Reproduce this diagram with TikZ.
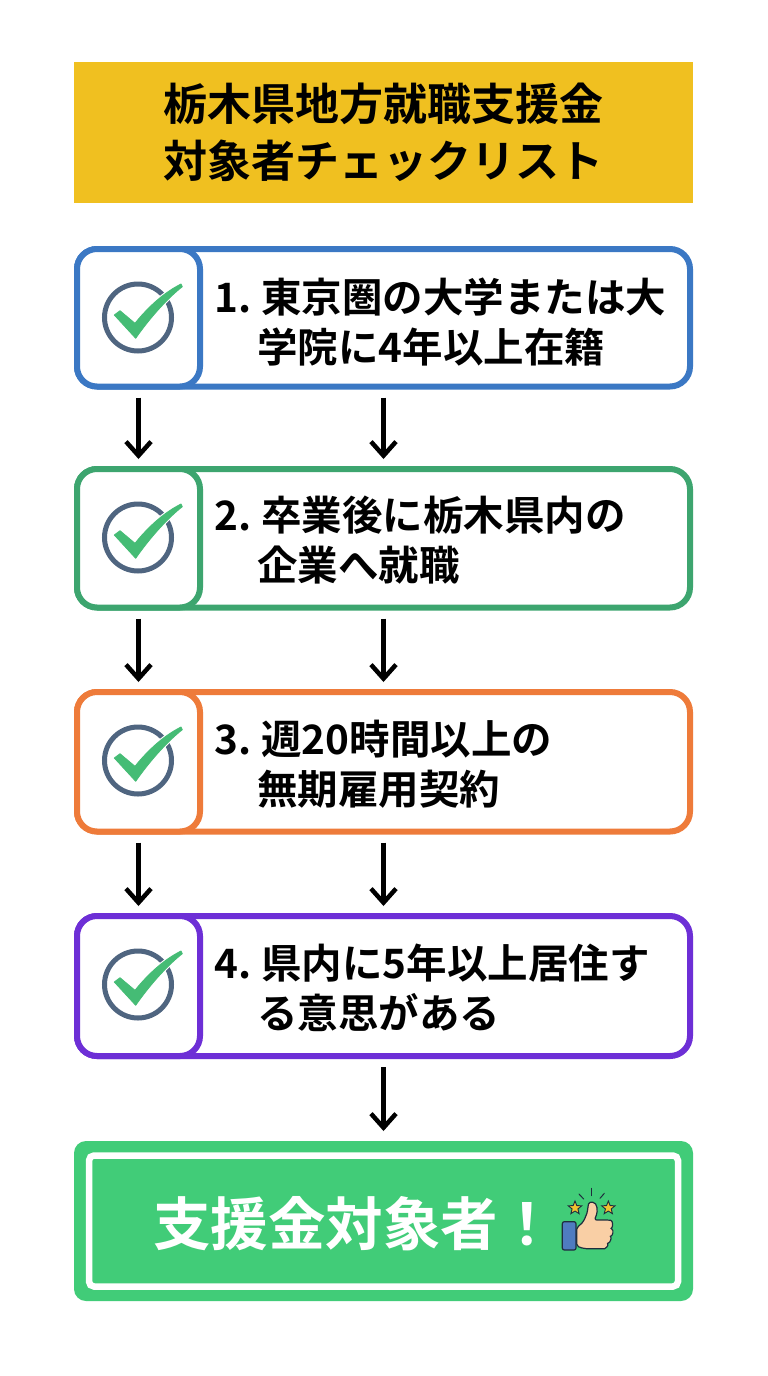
\documentclass[tikz,border=0pt]{standalone}
\usepackage{fontspec}
\setmainfont{Noto Sans CJK JP}[BoldFont={Noto Sans CJK JP Bold}]
\usetikzlibrary{arrows.meta,shapes.geometric}
\definecolor{cTitle}{HTML}{F0C020}
\definecolor{cBlue}{HTML}{3B78C4}
\definecolor{cGreen}{HTML}{3DA56F}
\definecolor{cOrange}{HTML}{EE7B3A}
\definecolor{cPurple}{HTML}{6D2FD6}
\definecolor{cResult}{HTML}{41CC78}
\definecolor{cCheck}{HTML}{45BC75}
\definecolor{cRing}{HTML}{4F6580}
\definecolor{cPeach}{HTML}{F9CFA5}
\definecolor{cCuff}{HTML}{4F7CC0}
\definecolor{cInk}{HTML}{1F2D3D}
\definecolor{cStar}{HTML}{F2C230}
\tikzset{
  x=1pt,y=-1pt,
  stepbox/.style={draw=#1,line width=6pt,rounded corners=20pt,fill=white,inner sep=0pt,outer sep=0pt,minimum width=613pt},
  iconbox/.style={draw=#1,line width=6pt,rounded corners=20pt,fill=white,inner sep=0pt,outer sep=0pt,minimum width=123pt},
  steptext/.style={anchor=west,align=left,inner sep=0pt,font=\fontsize{40.5pt}{50.5pt}\selectfont\bfseries,text=black},
  flow/.style={line width=4.5pt,-{Straight Barb[length=14pt,width=25pt,line width=4.5pt]},shorten <=11pt,shorten >=10pt,black},
  ring/.style={draw=cRing,line width=5pt,circle,minimum size=67pt,inner sep=0pt,outer sep=0pt},
  checkmark/.style={fill=cCheck,draw=cCheck,line width=0.8pt,line join=round},
  checkhalo/.style={draw=white,line width=3pt,line join=round},
  staricon/.style={star,star points=5,star point ratio=2.3,draw=cInk,line width=0.9pt,fill=cStar,minimum size=14pt,inner sep=0pt},
  rayline/.style={draw=cInk,line width=1pt,line cap=round},
}
\newcommand{\checkpath}{(-23.7,-2.5) -- (-18,-6.8) -- (-3,5.8) .. controls (8,-8) and (24,-24) .. (43,-33.5) -- (44.3,-30.8) .. controls (28,-18) and (10,3) .. (-2.3,20.8) -- cycle}
\newcommand{\stepblock}[6]{%
  \node[stepbox=#2,minimum height={#4-#3},anchor=north west] (b#1) at (77,#3) {};
  \node[iconbox=#2,minimum height={#4-#3},anchor=north west] (i#1) at (77,#3) {};
  \node[ring] (c#1) at (138,{#3+68.5}) {};
  \begin{scope}[shift={(c#1.center)}]
    \draw[checkhalo] \checkpath;
    \path[checkmark] \checkpath;
  \end{scope}
  \node[steptext] (t#1) at (214,{#3+#5}) {#6};
}
\begin{document}
\begin{tikzpicture}
\useasboundingbox (0,0) rectangle (768,1376);
\fill[white] (0,0) rectangle (768,1376);
% title
\node[fill=cTitle,minimum width=619pt,minimum height=141pt,inner sep=0pt,outer sep=0pt,align=center,
  font=\fontsize{44pt}{57pt}\selectfont\bfseries,text=black] (title) at (383.5,132.5) {栃木県地方就職支援金\\対象者チェックリスト};
% steps
\stepblock{1}{cBlue}{249}{386.5}{73}{1.\hspace{10pt}東京圏の大学または大\\\hspace*{43pt}学院に4年以上在籍}
\stepblock{2}{cGreen}{469}{607.5}{71}{2.\hspace{10pt}卒業後に栃木県内の\\\hspace*{43pt}企業へ就職}
\stepblock{3}{cOrange}{692}{831.5}{72}{3.\hspace{10pt}週20時間以上の\\\hspace*{43pt}無期雇用契約}
\stepblock{4}{cPurple}{916}{1056}{72}{4.\hspace{10pt}県内に5年以上居住す\\\hspace*{43pt}る意思がある}
% result
\node[fill=cResult,rounded corners=12pt,minimum width=619pt,minimum height=160pt,inner sep=0pt,outer sep=0pt] (res) at (383.5,1221) {};
\node[draw=white,line width=6.5pt,rounded corners=5pt,minimum width=589pt,minimum height=131pt,inner sep=0pt,outer sep=0pt] (resin) at (383.5,1221) {};
\node[anchor=west,inner sep=0pt,text=white,font=\fontsize{57.5pt}{60pt}\selectfont\bfseries] (restext) at (153,1224) {支援金対象者！};
% arrows
\foreach \a/\b in {1/2,2/3,3/4}{
  \draw[flow] (i\a.south) -- (i\b.north);
  \draw[flow] (b\a.south) -- (b\b.north);
}
\draw[flow] (b4.south) -- (res.north);
% thumbs-up
\begin{scope}[shift={(520,1170)},x=0.3333pt,y=-0.3333pt]
  \draw[rayline] (177,72) -- (191,87);
  \draw[rayline] (214,55) -- (214,77);
  \draw[rayline] (253,70) -- (240,85);
  \node[staricon] (s1) at (165,114) {};
  \node[staricon] (s2) at (265,114) {};
  \draw[cInk,line width=1.2pt,fill=cPeach,rounded corners=2pt]
    (170,172) .. controls (190,160) and (202,135) .. (204,108)
    .. controls (208,92) and (230,95) .. (231,118)
    .. controls (232,130) and (227,140) .. (224,150)
    -- (266,150) .. controls (280,152) and (278,172) .. (270,175)
    .. controls (282,180) and (278,197) .. (268,198)
    .. controls (275,204) and (270,218) .. (260,219)
    .. controls (265,226) and (258,236) .. (248,236)
    -- (205,236) .. controls (190,236) and (180,232) .. (170,228) -- cycle;
  \draw[cInk,line width=1.2pt,fill=cCuff,rounded corners=2pt] (127,155) rectangle (168,240);
\end{scope}
\end{tikzpicture}
\end{document}
